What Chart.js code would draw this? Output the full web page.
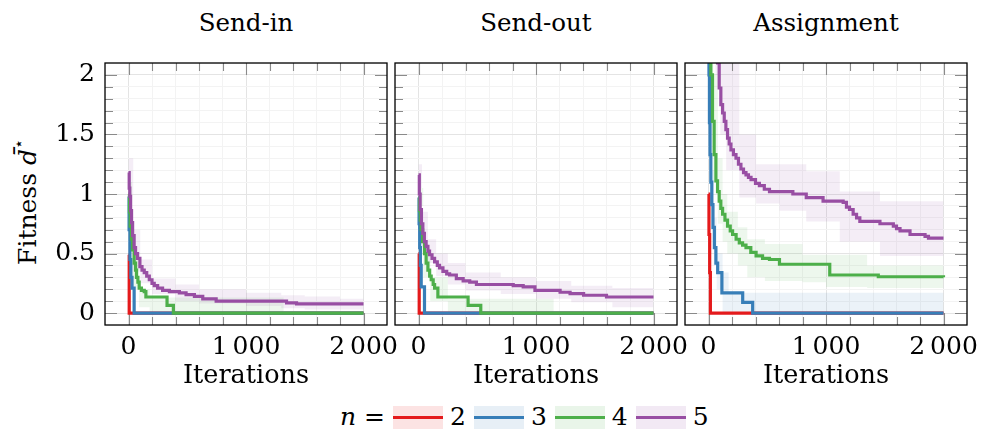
<!DOCTYPE html>
<html>
<head>
<meta charset="utf-8">
<script src="https://cdn.jsdelivr.net/npm/chart.js@4/dist/chart.umd.min.js"></script>
<style>
  html, body { margin: 0; padding: 0; background: #fff; }
  body { width: 988px; height: 430px; position: relative; overflow: hidden;
         font-family: "DejaVu Serif", "Liberation Serif", "Noto Serif", serif; color: #000; }
  canvas { position: absolute; top: 0; }
  .ptitle { position: absolute; top: 8px; width: 282px; text-align: center;
            font-size: 24.5px; line-height: 30px; white-space: nowrap; }
  #ylabel { position: absolute; left: 28px; top: 202px; font-size: 25px; line-height: 30px;
            white-space: nowrap; transform: translate(-50%, -50%) rotate(-90deg); }
  #ylabel sup { font-size: 16px; vertical-align: 12px; line-height: 0; font-style: normal; }
  #legend { position: absolute; left: 340px; top: 402px; height: 30px; display: flex;
            align-items: center; font-size: 25px; line-height: 30px; white-space: nowrap; }
  .lgbox { width: 50px; height: 23px; position: relative; }
  .lgline { position: absolute; left: 0; right: 0; top: 10px; height: 3px; }
  .lglab { margin: 0 8px 0 7px; }
</style>
</head>
<body>
<div class="ptitle" id="t0" style="left:105px"></div>
<div class="ptitle" id="t1" style="left:395px"></div>
<div class="ptitle" id="t2" style="left:685px"></div>
<div id="ylabel">Fitness <i>d&#772;</i><sup>&#8902;</sup></div>
<canvas id="c0" width="410" height="400" style="left:0px"></canvas>
<canvas id="c1" width="328" height="400" style="left:372px"></canvas>
<canvas id="c2" width="326" height="400" style="left:662px"></canvas>
<div id="legend"></div>
<script>
// ---------- chart text ----------
const panelTitles = ['Send-in', 'Send-out', 'Assignment'];
const xAxisTitle = 'Iterations';
const seriesLabels = ['2', '3', '4', '5'];
const xTickValues = [0, 1000, 2000];
const xTickLabels = ['0', '1\u2009000', '2\u2009000'];
const yTickValues = [0, 0.5, 1, 1.5, 2];
const yTickLabels = ['0', '0.5', '1', '1.5', '2'];

// ---------- Send-in (mean best fitness, step changes) ----------
const sendInX2 = [0, 6, 2000];
const sendInY2 = [0.49, 0, 0];
const sendInX3 = [0, 5, 12, 20, 30, 48, 2000];
const sendInY3 = [0.98, 0.7, 0.45, 0.3, 0.21, 0, 0];
const sendInX4 = [0, 8, 14, 25, 34, 48, 60, 68, 80, 91, 110, 134, 148, 328, 382, 2000];
const sendInY4 = [1.0, 0.85, 0.73, 0.62, 0.53, 0.42, 0.36, 0.3, 0.26, 0.21, 0.19, 0.18, 0.135, 0.065, 0, 0];
const sendInX5 = [0, 6, 11, 18, 26, 35, 48, 60, 77, 97, 115, 134, 155, 177, 200, 219, 248, 290, 348, 433, 490, 561, 632, 746, 1345, 1430, 2000];
const sendInY5 = [1.18, 1.05, 0.98, 0.86, 0.76, 0.65, 0.55, 0.5, 0.46, 0.39, 0.36, 0.34, 0.31, 0.28, 0.25, 0.23, 0.21, 0.19, 0.18, 0.17, 0.155, 0.14, 0.12, 0.1, 0.085, 0.077, 0.077];
// Send-in spread bands
const sendInBandX4 = [0, 30, 90, 180, 1320, 2000];
const sendInBandHi4 = [1.1, 0.5, 0.2, 0.13, 0, 0];
const sendInBandLo4 = [0.9, 0.2, 0.05, 0, 0, 0];
const sendInBandX5 = [0, 40, 100, 200, 400, 600, 1000, 1300, 1500, 1800, 2000];
const sendInBandHi5 = [1.3, 0.7, 0.45, 0.29, 0.24, 0.2, 0.17, 0.15, 0.14, 0.12, 0.12];
const sendInBandLo5 = [1.0, 0.35, 0.25, 0.16, 0.1, 0.08, 0.06, 0.04, 0.03, 0.03, 0.03];

// ---------- Send-out ----------
const sendOutX2 = [0, 6, 2000];
const sendOutY2 = [0.5, 0, 0];
const sendOutX3 = [0, 5, 10, 16, 23, 51, 2000];
const sendOutY3 = [0.97, 0.75, 0.55, 0.4, 0.22, 0, 0];
const sendOutX4 = [0, 8, 15, 23, 35, 51, 65, 80, 95, 108, 125, 137, 165, 422, 530, 2000];
const sendOutY4 = [0.97, 0.86, 0.78, 0.7, 0.6, 0.5, 0.42, 0.36, 0.31, 0.28, 0.24, 0.21, 0.135, 0.065, 0, 0];
const sendOutX5 = [0, 7, 14, 25, 37, 50, 65, 80, 94, 115, 137, 160, 179, 208, 240, 265, 322, 380, 436, 493, 806, 891, 991, 1205, 1290, 1405, 1600, 2000];
const sendOutY5 = [1.16, 1.0, 0.87, 0.75, 0.67, 0.6, 0.56, 0.52, 0.49, 0.46, 0.43, 0.4, 0.38, 0.35, 0.33, 0.32, 0.29, 0.27, 0.26, 0.24, 0.23, 0.22, 0.19, 0.175, 0.163, 0.15, 0.135, 0.135];
const sendOutBandX4 = [0, 40, 100, 250, 1150, 2000];
const sendOutBandHi4 = [1.05, 0.55, 0.3, 0.12, 0, 0];
const sendOutBandLo4 = [0.9, 0.3, 0.1, 0, 0, 0];
const sendOutBandX5 = [0, 30, 80, 150, 250, 400, 700, 1000, 1300, 1650, 2000];
const sendOutBandHi5 = [1.25, 0.85, 0.62, 0.5, 0.42, 0.34, 0.3, 0.27, 0.23, 0.21, 0.21];
const sendOutBandLo5 = [1.05, 0.55, 0.42, 0.31, 0.24, 0.19, 0.16, 0.12, 0.09, 0.05, 0.05];

// ---------- Assignment ----------
const assignX2 = [0, 4, 10, 16, 2000];
const assignY2 = [1.0, 0.66, 0.34, 0, 0];
const assignX3 = [0, 4, 8, 13, 20, 28, 38, 50, 63, 78, 114, 291, 376, 2000];
const assignY3 = [2.4, 2.0, 1.6, 1.33, 1.1, 0.91, 0.72, 0.55, 0.42, 0.34, 0.17, 0.09, 0, 0];
const assignX4 = [0, 10, 20, 34, 48, 63, 77, 91, 105, 120, 140, 162, 185, 205, 235, 262, 290, 319, 360, 405, 460, 519, 604, 1032, 1445, 2000];
const assignY4 = [3.0, 2.4, 2.0, 1.61, 1.33, 1.11, 1.02, 0.94, 0.88, 0.83, 0.78, 0.73, 0.69, 0.66, 0.62, 0.59, 0.57, 0.55, 0.51, 0.48, 0.46, 0.45, 0.41, 0.32, 0.305, 0.30];
const assignX5 = [0, 30, 60, 77, 91, 105, 120, 134, 148, 162, 176, 191, 212, 234, 255, 276, 298, 319, 340, 362, 400, 433, 475, 519, 718, 832, 975, 1146, 1174, 1200, 1231, 1260, 1288, 1459, 1573, 1600, 1630, 1715, 1843, 1872, 2000];
const assignY5 = [3.5, 2.8, 2.3, 2.1, 1.89, 1.75, 1.68, 1.61, 1.54, 1.47, 1.42, 1.37, 1.33, 1.30, 1.25, 1.21, 1.18, 1.16, 1.14, 1.12, 1.09, 1.07, 1.04, 1.02, 1.0, 0.97, 0.94, 0.93, 0.89, 0.87, 0.83, 0.8, 0.77, 0.75, 0.73, 0.71, 0.69, 0.66, 0.645, 0.63, 0.63];
const assignBandX3 = [0, 10, 25, 45, 70, 120, 171, 2000];
const assignBandHi3 = [2.6, 1.8, 1.2, 0.8, 0.5, 0.34, 0.17, 0.17];
const assignBandLo3 = [2.2, 1.2, 0.7, 0.4, 0.2, 0, 0, 0];
const assignBandX4 = [0, 20, 40, 80, 120, 160, 250, 330, 480, 800, 1000, 1350, 2000];
const assignBandHi4 = [3.3, 2.5, 2.0, 1.3, 1.0, 0.85, 0.72, 0.62, 0.58, 0.49, 0.49, 0.4, 0.4];
const assignBandLo4 = [2.7, 1.8, 1.1, 0.75, 0.6, 0.5, 0.4, 0.3, 0.27, 0.26, 0.22, 0.21, 0.21];
const assignBandX5 = [0, 60, 100, 150, 262, 405, 604, 832, 1117, 1459, 2000];
const assignBandHi5 = [3.8, 3.0, 2.5, 2.1, 1.5, 1.25, 1.25, 1.19, 1.02, 0.94, 0.94];
const assignBandLo5 = [3.2, 2.0, 1.5, 1.2, 0.97, 0.92, 0.86, 0.77, 0.6, 0.48, 0.48];

// ---------- styles ----------
const seriesColors = ['#e41a1c', '#377eb8', '#4daf4a', '#984ea3'];
const FONT = '"DejaVu Serif", "Liberation Serif", "Noto Serif", serif';

function rgba(hex, a) {
  const n = parseInt(hex.slice(1), 16);
  return `rgba(${(n >> 16) & 255},${(n >> 8) & 255},${n & 255},${a})`;
}
function pts(xs, ys) { return xs.map((x, i) => ({ x: x, y: ys[i] })); }
function isMajorY(v) { return yTickValues.some(t => Math.abs(t - v) < 1e-6); }
function isMajorX(v) { return xTickValues.some(t => Math.abs(t - v) < 1e-6); }

const framePlugin = {
  id: 'frame',
  beforeDatasetsDraw(chart) {
    const { ctx, chartArea: a } = chart;
    const xs = chart.scales.x, ys = chart.scales.y;
    ctx.save();
    ctx.strokeStyle = '#8a8a8a';
    ctx.lineWidth = 1.1;
    ctx.beginPath();
    xs.ticks.forEach(t => {
      const p = Math.round(xs.getPixelForValue(t.value)) + 0.5;
      if (p < a.left + 1 || p > a.right - 1) return;
      const len = isMajorX(t.value) ? 12 : 8;
      ctx.moveTo(p, a.bottom); ctx.lineTo(p, a.bottom - len);
      ctx.moveTo(p, a.top); ctx.lineTo(p, a.top + len);
    });
    ys.ticks.forEach(t => {
      const p = Math.round(ys.getPixelForValue(t.value)) + 0.5;
      if (p < a.top + 1 || p > a.bottom - 1) return;
      const len = isMajorY(t.value) ? 12 : 8;
      ctx.moveTo(a.left, p); ctx.lineTo(a.left + len, p);
      ctx.moveTo(a.right, p); ctx.lineTo(a.right - len, p);
    });
    ctx.stroke();
    ctx.restore();
  },
  afterDatasetsDraw(chart) {
    const { ctx, chartArea: a } = chart;
    ctx.save();
    ctx.strokeStyle = '#000';
    ctx.lineWidth = 1.3;
    ctx.strokeRect(a.left, a.top, a.right - a.left, a.bottom - a.top);
    ctx.restore();
  }
};

function makePanel(idx, lines, bands, yWidth, padRight) {
  const datasets = [];
  bands.forEach(b => {
    datasets.push({ data: pts(b[1], b[2]), fill: '+1', backgroundColor: rgba(seriesColors[b[0]], 0.1),
      borderColor: 'rgba(0,0,0,0)', borderWidth: 0, pointRadius: 0, stepped: true, order: 20 });
    datasets.push({ data: pts(b[1], b[3]), fill: false,
      borderColor: 'rgba(0,0,0,0)', borderWidth: 0, pointRadius: 0, stepped: true, order: 20 });
  });
  lines.forEach((l, i) => {
    datasets.push({ label: seriesLabels[i], data: pts(l[0], l[1]), borderColor: seriesColors[i],
      borderWidth: 3.2, pointRadius: 0, stepped: true, fill: false, order: 10 - i });
  });
  document.getElementById('t' + idx).textContent = panelTitles[idx];
  return new Chart(document.getElementById('c' + idx), {
    type: 'line',
    data: { datasets: datasets },
    plugins: [framePlugin],
    options: {
      responsive: false, animation: false, devicePixelRatio: 1,
      layout: { padding: { top: 63, left: 0, right: padRight, bottom: 0 } },
      plugins: { legend: { display: false }, tooltip: { enabled: false }, title: { display: false },
                 filler: { drawTime: 'beforeDatasetsDraw' } },
      scales: {
        x: {
          type: 'linear', min: -200, max: 2200,
          afterFit: s => { s.height = 75; },
          border: { display: false },
          grid: { drawTicks: false, lineWidth: 1,
                  color: c => (c.tick && isMajorX(c.tick.value)) ? '#e4e4e4' : '#f3f3f3' },
          ticks: { stepSize: 200, autoSkip: false, maxRotation: 0, minRotation: 0, padding: 8, color: '#000',
                   font: { family: FONT, size: 25, lineHeight: 1.15 },
                   callback: v => { const k = xTickValues.findIndex(t => Math.abs(t - v) < 1e-6); return k >= 0 ? xTickLabels[k] : ''; } },
          title: { display: true, text: xAxisTitle, color: '#000', font: { family: FONT, size: 25.5, lineHeight: 1.1 },
                   padding: { top: 0, bottom: 10 } }
        },
        y: {
          type: 'linear', min: -0.1, max: 2.1,
          afterFit: s => { s.width = yWidth; },
          border: { display: false },
          grid: { drawTicks: false, lineWidth: 1,
                  color: c => (c.tick && isMajorY(c.tick.value)) ? '#e4e4e4' : '#f3f3f3' },
          ticks: { display: idx === 0, stepSize: 0.1, autoSkip: false, padding: 10, color: '#000',
                   font: { family: FONT, size: 25, lineHeight: 1.15 },
                   callback: v => { const k = yTickValues.findIndex(t => Math.abs(t - v) < 1e-6); return k >= 0 ? yTickLabels[k] : ''; } }
        }
      }
    }
  });
}

makePanel(0,
  [[sendInX2, sendInY2], [sendInX3, sendInY3], [sendInX4, sendInY4], [sendInX5, sendInY5]],
  [[2, sendInBandX4, sendInBandHi4, sendInBandLo4], [3, sendInBandX5, sendInBandHi5, sendInBandLo5]],
  105, 23);
makePanel(1,
  [[sendOutX2, sendOutY2], [sendOutX3, sendOutY3], [sendOutX4, sendOutY4], [sendOutX5, sendOutY5]],
  [[2, sendOutBandX4, sendOutBandHi4, sendOutBandLo4], [3, sendOutBandX5, sendOutBandHi5, sendOutBandLo5]],
  23, 23);
makePanel(2,
  [[assignX2, assignY2], [assignX3, assignY3], [assignX4, assignY4], [assignX5, assignY5]],
  [[1, assignBandX3, assignBandHi3, assignBandLo3], [2, assignBandX4, assignBandHi4, assignBandLo4], [3, assignBandX5, assignBandHi5, assignBandLo5]],
  23, 21);

// ---------- legend ----------
const legend = document.getElementById('legend');
const head = document.createElement('span');
head.innerHTML = '<i>n</i> =';
head.style.marginRight = '8px';
legend.appendChild(head);
seriesLabels.forEach((lab, i) => {
  const box = document.createElement('div');
  box.className = 'lgbox';
  box.style.background = rgba(seriesColors[i], 0.12);
  const ln = document.createElement('div');
  ln.className = 'lgline';
  ln.style.background = seriesColors[i];
  box.appendChild(ln);
  legend.appendChild(box);
  const t = document.createElement('span');
  t.className = 'lglab';
  t.textContent = lab;
  legend.appendChild(t);
});
</script>
</body>
</html>
